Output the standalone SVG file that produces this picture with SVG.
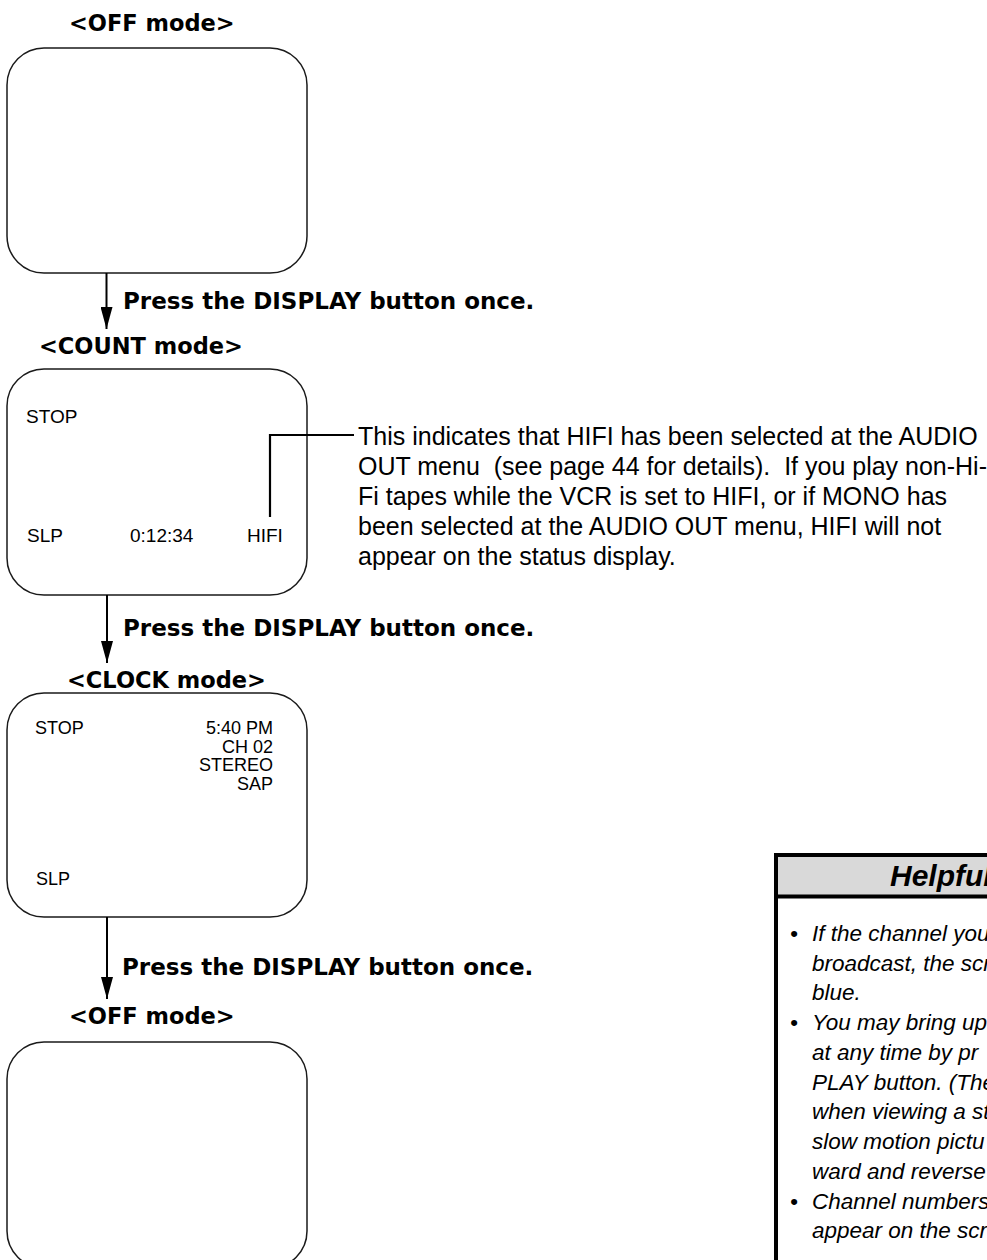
<svg xmlns="http://www.w3.org/2000/svg" width="987" height="1260" viewBox="0 0 987 1260">
<style>
.bg{fill:#ffffff}
.screen{fill:#ffffff;stroke:#1a1a1a;stroke-width:1.5}
.head{font-family:"DejaVu Sans","Liberation Sans",sans-serif;font-weight:bold;font-size:22.5px;fill:#000}
.press{font-family:"DejaVu Sans","Liberation Sans",sans-serif;font-weight:bold;font-size:23px;fill:#000}
.osd{font-family:"Liberation Sans","Arial",sans-serif;font-size:19px;fill:#000}
.osd3{font-family:"Liberation Sans","Arial",sans-serif;font-size:18px;fill:#000}
.para{font-family:"Liberation Sans","Arial",sans-serif;font-size:25px;fill:#000;white-space:pre}
.hint{font-family:"Liberation Sans","Arial",sans-serif;font-style:italic;font-size:22.5px;fill:#000}
.hinttitle{font-family:"Liberation Sans","Arial",sans-serif;font-style:italic;font-weight:bold;font-size:30px;fill:#000}
.arrow{stroke:#000;stroke-width:2;fill:none}
.leader{stroke:#000;stroke-width:2.2;fill:none}
</style>
<defs>
<marker id="ah" viewBox="0 0 22 12" refX="22" refY="6" markerWidth="22" markerHeight="12" markerUnits="userSpaceOnUse" orient="auto">
<path d="M0,0 L22,6 L0,12 Z" fill="#000"/>
</marker>
</defs>
<rect class="bg" x="0" y="0" width="987" height="1260"/>

<g id="off-mode-1">
<text class="head" x="69" y="31">&lt;OFF mode&gt;</text>
<rect class="screen" x="7" y="48" width="300" height="225" rx="37" ry="37"/>
</g>

<g id="count-mode">
<text class="head" x="39" y="354">&lt;COUNT mode&gt;</text>
<rect class="screen" x="7" y="369" width="300" height="226" rx="37" ry="37"/>
<text class="osd" x="26" y="423">STOP</text>
<text class="osd" x="27" y="542">SLP</text>
<text class="osd" x="130" y="542">0:12:34</text>
<text class="osd" x="247" y="542">HIFI</text>
</g>

<g id="hifi-note">
<text class="para" x="358" y="445">This indicates that HIFI has been selected at the AUDIO</text>
<text class="para" x="358" y="475">OUT menu  (see page 44 for details).  If you play non-Hi-</text>
<text class="para" x="358" y="505">Fi tapes while the VCR is set to HIFI, or if MONO has</text>
<text class="para" x="358" y="535">been selected at the AUDIO OUT menu, HIFI will not</text>
<text class="para" x="358" y="565">appear on the status display.</text>
</g>

<g id="clock-mode">
<text class="head" x="67" y="688">&lt;CLOCK mode&gt;</text>
<rect class="screen" x="7" y="693" width="300" height="224" rx="37" ry="37"/>
<text class="osd3" x="35" y="734">STOP</text>
<text class="osd3" x="273" y="734" text-anchor="end">5:40 PM</text>
<text class="osd3" x="273" y="752.5" text-anchor="end">CH 02</text>
<text class="osd3" x="273" y="771" text-anchor="end">STEREO</text>
<text class="osd3" x="273" y="789.5" text-anchor="end">SAP</text>
<text class="osd3" x="36" y="885">SLP</text>
</g>

<g id="off-mode-2">
<text class="head" x="69" y="1024">&lt;OFF mode&gt;</text>
<rect class="screen" x="7" y="1042" width="300" height="226" rx="37" ry="37"/>
</g>

<g id="helpful-hints">
<rect x="776" y="855" width="400" height="600" fill="#fff" stroke="#000" stroke-width="4"/>
<rect x="778" y="857" width="400" height="38" fill="#d9d9d9"/>
<line x1="776" y1="896.5" x2="987" y2="896.5" stroke="#000" stroke-width="4"/>
<text class="hinttitle" x="890" y="886">Helpful</text>
<text class="hint" x="790" y="941">•</text>
<text class="hint" x="812" y="941">If the channel you</text>
<text class="hint" x="812" y="971">broadcast, the scr</text>
<text class="hint" x="812" y="1000">blue.</text>
<text class="hint" x="790" y="1030">•</text>
<text class="hint" x="812" y="1030">You may bring up</text>
<text class="hint" x="812" y="1060">at any time by pr</text>
<text class="hint" x="812" y="1090">PLAY button. (The</text>
<text class="hint" x="812" y="1119">when viewing a st</text>
<text class="hint" x="812" y="1149">slow motion pictu</text>
<text class="hint" x="812" y="1179">ward and reverse</text>
<text class="hint" x="790" y="1209">•</text>
<text class="hint" x="812" y="1209">Channel numbers</text>
<text class="hint" x="812" y="1238">appear on the scr</text>
</g>

<g id="connectors">
<line class="arrow" x1="106.5" y1="273" x2="106.5" y2="329" marker-end="url(#ah)"/>
<line class="arrow" x1="107" y1="595" x2="107" y2="663" marker-end="url(#ah)"/>
<line class="arrow" x1="107" y1="917" x2="107" y2="999" marker-end="url(#ah)"/>
<polyline class="leader" points="270,517 270,435 354,435"/>
</g>

<g id="connector-labels">
<text class="press" x="123" y="309">Press the DISPLAY button once.</text>
<text class="press" x="123" y="636">Press the DISPLAY button once.</text>
<text class="press" x="122" y="975">Press the DISPLAY button once.</text>
</g>
</svg>
